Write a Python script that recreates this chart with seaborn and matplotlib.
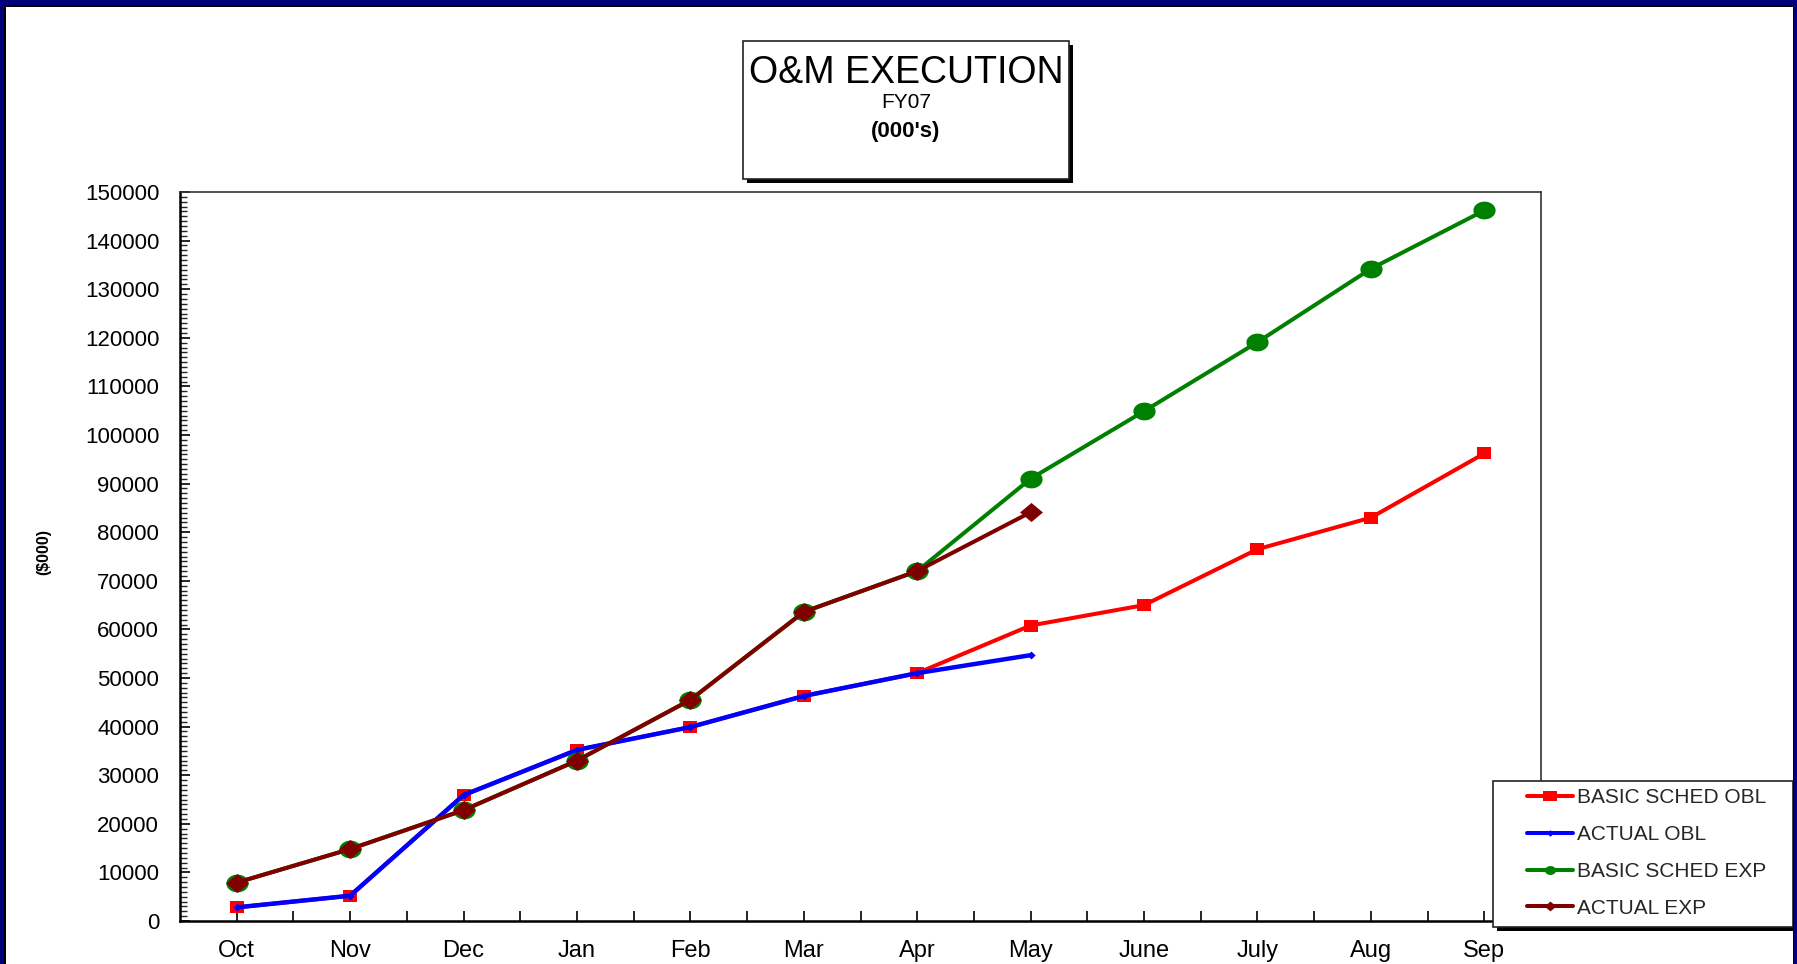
import numpy as np
import pandas as pd
import matplotlib
matplotlib.use("Agg")
import matplotlib.pyplot as plt
from matplotlib.patches import Rectangle
from matplotlib.lines import Line2D
from matplotlib.ticker import MultipleLocator, FixedLocator
import seaborn as sns

# ---------------- data ----------------
months = ["Oct", "Nov", "Dec", "Jan", "Feb", "Mar", "Apr", "May", "June", "July", "Aug", "Sep"]
basic_sched_obl = [2800, 5200, 25900, 35200, 39900, 46300, 51000, 60800, 65000, 76500, 83000, 96200]
actual_obl = [2800, 5200, 25900, 35200, 39900, 46300, 51000, 54700]
basic_sched_exp = [7900, 14800, 22800, 33000, 45500, 63600, 72000, 91000, 104900, 119100, 134200, 146200]
actual_exp = [7900, 14800, 22800, 33000, 45500, 63600, 72000, 84100]
series_names = ["BASIC SCHED OBL", "ACTUAL OBL", "BASIC SCHED EXP", "ACTUAL EXP"]
y_ticks = list(range(0, 150001, 10000))

W, H = 1797, 964

sns.set_theme(style="white")
plt.rcParams["font.family"] = ["Liberation Sans", "DejaVu Sans"]

fig = plt.figure(figsize=(W / 100, H / 100), dpi=100)
fig.patch.set_facecolor("white")


def fx(x):
    return x / W


def fy(y):
    return 1 - y / H


ax_l, ax_r, ax_t, ax_b = 180, 1541, 192, 921
ax = fig.add_axes([fx(ax_l), fy(ax_b), (ax_r - ax_l) / W, (ax_b - ax_t) / H])
ax.set_facecolor("white")

# custom (slightly wide) markers
t = np.linspace(0, 2 * np.pi, 60)
asp = 1.25
ellipse = list(zip(asp * np.cos(t), np.sin(t)))
rect = [(-asp, -1), (asp, -1), (asp, 1), (-asp, 1), (-asp, -1)]
diamond = [(0, -1), (1.2, 0), (0, 1), (-1.2, 0), (0, -1)]
small_diamond = [(0, -1), (1.05, 0), (0, 1), (-1.05, 0), (0, -1)]

styles = [
    dict(color="#FF0000", marker=rect, ms=10.2, lw=2.9),
    dict(color="#0000FF", marker=small_diamond, ms=6.0, lw=3.2),
    dict(color="#008000", marker=ellipse, ms=16.0, lw=2.9),
    dict(color="#800000", marker=diamond, ms=16.5, lw=2.9),
]
values = [basic_sched_obl, actual_obl, basic_sched_exp, actual_exp]

for i, (vals, st) in enumerate(zip(values, styles)):
    df = pd.DataFrame({"x": np.arange(len(vals)), "y": vals})
    sns.lineplot(data=df, x="x", y="y", ax=ax, color=st["color"], linewidth=st["lw"],
                 marker=st["marker"], markersize=st["ms"], markeredgewidth=0,
                 markeredgecolor=st["color"], sort=False, zorder=3 + i)

ax.set_xlim(-0.5, len(months) - 0.5)
ax.set_ylim(0, 150000)
ax.set_xlabel("")
ax.set_ylabel("")
ax.xaxis.set_major_locator(FixedLocator(np.arange(len(months))))
ax.set_xticklabels(months)
ax.xaxis.set_minor_locator(FixedLocator(np.arange(len(months) - 1) + 0.5))
ax.yaxis.set_major_locator(FixedLocator(y_ticks))
ax.set_yticklabels([str(v) for v in y_ticks])
ax.yaxis.set_minor_locator(MultipleLocator(1000))

ax.tick_params(axis="y", which="major", direction="in", length=7, width=1.2,
               pad=15, labelsize=16, colors="black", left=True)
ax.tick_params(axis="y", which="minor", direction="in", length=5, width=1.0, left=True)
ax.tick_params(axis="x", which="both", direction="in", length=7, width=1.2,
               pad=14, labelsize=17, colors="black", bottom=True)
for side in ["left", "bottom"]:
    ax.spines[side].set_color("black")
    ax.spines[side].set_linewidth(1.8)
for side in ["top", "right"]:
    ax.spines[side].set_color("#333333")
    ax.spines[side].set_linewidth(1.2)

fig.text(fx(44), fy(552), "($000)", rotation=90, ha="center", va="center",
         fontsize=11.5, fontweight="bold", color="black")

# ---------------- title box ----------------
tb_x0, tb_x1, tb_y0, tb_y1 = 743, 1069, 41, 179
fig.patches.append(Rectangle((fx(tb_x0 + 4), fy(tb_y1 + 4)), (tb_x1 - tb_x0) / W, (tb_y1 - tb_y0) / H,
                             transform=fig.transFigure, facecolor="black", edgecolor="none", zorder=6))
fig.patches.append(Rectangle((fx(tb_x0), fy(tb_y1)), (tb_x1 - tb_x0) / W, (tb_y1 - tb_y0) / H,
                             transform=fig.transFigure, facecolor="white", edgecolor="#222222",
                             linewidth=1.2, zorder=7))
cx = (tb_x0 + tb_x1) / 2
fig.text(fx(cx), fy(73), "O&M EXECUTION", ha="center", va="center", fontsize=27, color="black", zorder=8)
fig.text(fx(cx), fy(103), "FY07", ha="center", va="center", fontsize=15, color="black", zorder=8)
fig.text(fx(cx), fy(132), "(000's)", ha="center", va="center", fontsize=16, fontweight="bold",
         color="black", zorder=8)

# ---------------- legend ----------------
lg_x0, lg_x1, lg_y0, lg_y1 = 1493, 1793, 781, 927
fig.patches.append(Rectangle((fx(lg_x0 + 4), fy(lg_y1 + 4)), (lg_x1 - lg_x0) / W, (lg_y1 - lg_y0) / H,
                             transform=fig.transFigure, facecolor="black", edgecolor="none", zorder=6))
fig.patches.append(Rectangle((fx(lg_x0), fy(lg_y1)), (lg_x1 - lg_x0) / W, (lg_y1 - lg_y0) / H,
                             transform=fig.transFigure, facecolor="white", edgecolor="#222222",
                             linewidth=1.2, zorder=7))
leg_ms = [9.5, 5.0, 8.0, 8.5]
handles = [Line2D([0], [0], color=st["color"], lw=2.9, marker=st["marker"], markersize=m,
                  markeredgewidth=0) for st, m in zip(styles, leg_ms)]
leg = fig.legend(handles, series_names, loc="upper left", bbox_to_anchor=(fx(1527), fy(788)),
                 bbox_transform=fig.transFigure, frameon=False, fontsize=15, handlelength=2.2,
                 handletextpad=0.2, labelspacing=0.86, borderpad=0, borderaxespad=0)
leg.set_zorder(9)

# ---------------- navy frame ----------------
navy = "#00007A"
for (x0, y0, w, h, c) in [
    (0, 0, W, 5, navy), (0, 5, W, 1.5, "black"),
    (0, 0, 4, H, navy), (4, 5, 1.5, H, "black"),
    (1794, 0, 3, H, navy), (1792.5, 5, 1.5, H, "black"),
]:
    fig.patches.append(Rectangle((fx(x0), fy(y0 + h)), w / W, h / H, transform=fig.transFigure,
                                 facecolor=c, edgecolor="none", zorder=20))

fig.savefig("out.png", dpi=100, facecolor="white")
